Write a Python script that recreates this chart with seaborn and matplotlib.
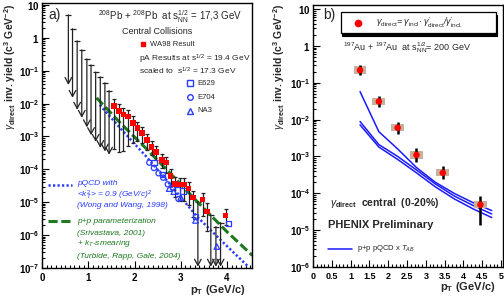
import numpy as np
import pandas as pd
import matplotlib
matplotlib.use("Agg")
import matplotlib.pyplot as plt
import seaborn as sns
from matplotlib.ticker import MultipleLocator, FixedLocator, NullFormatter, FuncFormatter

# ---------------- data: panel a (WA98, Pb+Pb 17.3 GeV) ----------------
ul_pt = [0.57, 0.66, 0.76, 0.86, 0.97, 1.06, 1.16, 1.26, 1.36, 1.45]
ul_top = [5.0, 1.9, 0.81, 0.43, 0.23, 0.15, 0.091, 0.065, 0.043, 0.025]
ul_tip = [0.037, 0.015, 6.5e-3, 3.7e-3, 1.9e-3, 1.1e-3, 6.9e-4, 4.5e-4, 3.5e-4, 2.8e-4]

wa98_pt = [1.56, 1.66, 1.76, 1.86, 1.97, 2.06, 2.16, 2.27, 2.37, 2.46, 2.59, 2.68,
           2.78, 2.88, 2.98, 3.07, 3.17, 3.27, 3.47, 3.57, 3.97]
wa98_y = [8.5e-3, 6.0e-3, 4.6e-3, 4.0e-3, 2.6e-3, 1.8e-3, 1.3e-3, 7.9e-4, 4.8e-4, 3.4e-4,
          1.95e-4, 1.6e-4, 6.3e-5, 3.6e-5, 3.5e-5, 3.5e-5, 2.6e-5, 1.4e-5, 1.2e-5, 5.2e-6, 3.9e-6]
wa98_hi = [1.4e-2, 1.0e-2, 7.3e-3, 6.3e-3, 4.1e-3, 2.7e-3, 2.0e-3, 1.2e-3, 7.2e-4, 5.1e-4,
           2.9e-4, 2.4e-4, 1.0e-4, 5.7e-5, 5.5e-5, 5.5e-5, 4.1e-5, 2.2e-5, 1.9e-5, 9.2e-6, 6.2e-6]
wa98_lo = [4.3e-4, 3.4e-4, 3.6e-4, 5.0e-4, 6.5e-4, 7.2e-4, 6.5e-4, 4.0e-4, 2.7e-4, 1.9e-4,
           1.1e-4, 8.0e-5, 3.2e-5, 1.4e-5, 1.1e-5, 1.1e-5, 8.2e-6, 3.5e-6, 3.8e-6, 1.3e-6, 2.0e-6]

zero_pt = [3.37, 3.65, 3.76, 3.86]
zero_top = [1.05e-5, 4.2e-6, 1.8e-6, 2.4e-6]
zero_floor = 1.1e-7

e704_pt = [2.32, 2.42, 2.52, 2.62, 2.72, 2.83, 2.95]
e704_y = [1.6e-4, 1.1e-4, 7.6e-5, 5.6e-5, 3.5e-5, 2.8e-5, 1.26e-5]
e629_pt = [2.42, 2.60, 2.91, 3.05, 3.32, 4.03]
e629_y = [1.6e-4, 7.1e-5, 3.4e-5, 2.2e-5, 3.7e-6, 2.2e-6]
na3_pt = [2.75, 2.85, 3.00, 3.32, 3.78]
na3_y = [2.6e-5, 2.1e-5, 1.4e-5, 2.8e-6, 4.5e-7]

pp_pt = [1.18, 1.69, 2.26, 2.77, 3.34, 4.00, 4.55]
pp_y = [1.5e-2, 2.6e-3, 4.2e-4, 7.6e-5, 1.1e-5, 1.26e-6, 2.4e-7]
pqcd_pt = [1.25, 1.69, 2.26, 2.77, 3.34, 3.90, 4.46]
pqcd_y = [9.1e-3, 1.8e-3, 2.4e-4, 3.5e-5, 3.8e-6, 6.3e-7, 1.1e-7]

xticks_a = [0, 1, 2, 3, 4]
xticklabels_a = ['0', '1', '2', '3', '4']
ydecades_a = [-7, -6, -5, -4, -3, -2, -1, 0, 1]

# ---------------- data: panel b (PHENIX Au+Au 200 GeV) ----------------
phx_pt = [1.25, 1.75, 2.25, 2.75, 3.45, 4.45]
phx_y = [0.22, 0.031, 6.0e-3, 1.1e-3, 3.6e-4, 4.9e-5]
phx_hi = [0.30, 0.043, 8.7e-3, 1.7e-3, 5.5e-4, 8.7e-5]
phx_lo = [0.16, 0.022, 4.1e-3, 6.9e-4, 2.4e-4, 1.4e-5]
phx_sys_hi = [0.277, 0.039, 7.6e-3, 1.4e-3, 4.5e-4, 6.2e-5]
phx_sys_lo = [0.175, 0.0246, 4.8e-3, 8.7e-4, 2.9e-4, 3.9e-5]

taa_pt = [1.25, 1.75, 2.25, 2.75, 3.25, 3.75, 4.25, 4.75]
taa_up = [5.75e-2, 4.7e-3, 1.6e-3, 5.0e-4, 2.0e-4, 1.0e-4, 5.6e-5, 3.4e-5]
taa_mid = [8.9e-3, 2.1e-3, 1.0e-3, 4.3e-4, 1.8e-4, 8.5e-5, 4.7e-5, 2.75e-5]
taa_low = [7.2e-3, 1.8e-3, 8.3e-4, 3.6e-4, 1.5e-4, 7.1e-5, 3.8e-5, 2.2e-5]

xticks_b = [0, 0.5, 1, 1.5, 2, 2.5, 3, 3.5, 4, 4.5, 5]
xticklabels_b = ['0', '0.5', '1', '1.5', '2', '2.5', '3', '3.5', '4', '4.5', '5']
ydecades_b = [-6, -5, -4, -3, -2, -1, 0, 1]

# ---------------- style ----------------
sns.set_style("ticks")
plt.rcParams['font.family'] = ['Liberation Sans', 'DejaVu Sans']
plt.rcParams['mathtext.fontset'] = 'custom'
plt.rcParams['mathtext.rm'] = 'Liberation Sans'
plt.rcParams['mathtext.it'] = 'Liberation Sans:italic'
plt.rcParams['mathtext.bf'] = 'Liberation Sans:bold'

RED = '#ff0000'
BLUE = '#2a3cff'
GREEN = '#1e7a1e'
TAN = '#c6b29c'
INK = '#222222'

fig = plt.figure(figsize=(5.04, 3.01), dpi=100)
axA = fig.add_axes([42/504, 1-268/301, 210/504, 265/301])
axB = fig.add_axes([313/504, 1-267/301, 190/504, 262/301])


def log_fmt(v, pos):
    e = int(round(np.log10(v)))
    if e == 0:
        return r'$\mathbf{1}$'
    if e == 1:
        return r'$\mathbf{10}$'
    return r'$\mathbf{10^{%d}}$' % e


def style_axes(ax, decades):
    ax.set_yscale('log')
    for sp in ax.spines.values():
        sp.set_linewidth(1.0)
        sp.set_color('black')
    ax.tick_params(which='both', direction='in', top=False, right=False,
                   labelsize=7, colors='black', width=0.8)
    ax.tick_params(which='major', length=5)
    ax.tick_params(which='minor', length=2.5)
    ax.tick_params(axis='y', which='major', pad=2)
    majors = [10.0 ** d for d in decades]
    minors = [m * 10.0 ** d for d in decades[:-1] for m in range(2, 10)]
    ax.yaxis.set_major_locator(FixedLocator(majors))
    ax.yaxis.set_minor_locator(FixedLocator(minors))
    ax.yaxis.set_minor_formatter(NullFormatter())
    ax.yaxis.set_major_formatter(FuncFormatter(log_fmt))
    ax.xaxis.set_minor_locator(MultipleLocator(0.1))


style_axes(axA, ydecades_a)
style_axes(axB, ydecades_b)

# ---------------- panel a ----------------
for x, t, b in zip(ul_pt, ul_top, ul_tip):
    axA.annotate('', xy=(x, b), xytext=(x, t), xycoords='data', textcoords='data',
                 arrowprops=dict(arrowstyle='->,head_length=0.55,head_width=0.3', color=INK,
                                 lw=0.9, shrinkA=0, shrinkB=0, mutation_scale=8))
axA.plot(ul_pt, ul_top, ls='none', marker='_', ms=4, mew=0.9, color=INK)

for x, t in zip(zero_pt, zero_top):
    axA.annotate('', xy=(x, zero_floor), xytext=(x, t), xycoords='data', textcoords='data',
                 arrowprops=dict(arrowstyle='->,head_length=0.55,head_width=0.3', color=INK,
                                 lw=0.9, shrinkA=0, shrinkB=0, mutation_scale=8))
axA.plot(zero_pt, zero_top, ls='none', marker='_', ms=4, mew=0.9, color=INK)

sns.lineplot(x=pqcd_pt, y=pqcd_y, ax=axA, color=BLUE, linewidth=1.8,
             linestyle=(0, (0.9, 0.9)), errorbar=None, sort=False)
sns.lineplot(x=pp_pt, y=pp_y, ax=axA, color=GREEN, linewidth=2.2,
             linestyle=(0, (3.0, 1.2)), errorbar=None, sort=False)

wy = np.array(wa98_y)
axA.errorbar(wa98_pt, wy, yerr=[wy - np.array(wa98_lo), np.array(wa98_hi) - wy],
             fmt='none', ecolor=INK, elinewidth=0.9, capsize=1.5, capthick=0.9)
sns.scatterplot(x=wa98_pt, y=wa98_y, ax=axA, marker='s', s=16, color=RED,
                edgecolor='none', zorder=5)

sns.scatterplot(x=e704_pt, y=e704_y, ax=axA, marker='o', s=14, color=BLUE,
                facecolor='none', edgecolor=BLUE, linewidth=0.9, zorder=4)
sns.scatterplot(x=e629_pt, y=e629_y, ax=axA, marker='s', s=14, color=BLUE,
                facecolor='none', edgecolor=BLUE, linewidth=0.9, zorder=4)
sns.scatterplot(x=na3_pt, y=na3_y, ax=axA, marker='^', s=16, color=BLUE,
                facecolor='none', edgecolor=BLUE, linewidth=0.9, zorder=4)

axA.set_xlim(0, 4.54)
axA.set_ylim(1e-7, 10**1.06)
axA.set_xticks(xticks_a)
axA.set_xticklabels(xticklabels_a, fontweight='bold', fontsize=7)
axA.set_xlabel('')
axA.set_ylabel('')

tA = axA.transAxes
axA.text(0.03, 0.955, 'a)', transform=tA, fontsize=10, ha='left', va='center')
axA.text(0.61, 0.947, r'$^{208}$Pb + $^{208}$Pb  at s$_{\rm NN}^{1/2}$ = 17,3 GeV',
         transform=tA, fontsize=7, ha='center', va='center')
axA.text(0.548, 0.891, 'Central Collisions', transform=tA, fontsize=6.5,
         ha='center', va='center')
axA.plot([0.481], [0.845], transform=tA, marker='s', ms=3.5, color=RED, ls='none')
axA.text(0.514, 0.845, 'WA98 Result', transform=tA, fontsize=5.5, ha='left', va='center')
axA.text(0.462, 0.788, r'pA Results at s$^{1/2}$ = 19.4 GeV', transform=tA,
         fontsize=6, ha='left', va='center')
axA.text(0.462, 0.742, r'scaled to  s$^{1/2}$ = 17.3 GeV', transform=tA,
         fontsize=6, ha='left', va='center')
for fy, mk, lab in [(0.697, 's', 'E629'), (0.645, 'o', 'E704'), (0.593, '^', 'NA3')]:
    axA.plot([0.705], [fy], transform=tA, marker=mk, ms=4, mfc='none', mec=BLUE,
             mew=1.0, ls='none')
    axA.text(0.738, fy, lab, transform=tA, fontsize=5.5, ha='left', va='center')

axA.plot([0.029, 0.143], [0.313, 0.313], transform=tA, color=BLUE, lw=1.8,
         ls=(0, (0.9, 0.9)))
axA.plot([0.029, 0.143], [0.177, 0.177], transform=tA, color=GREEN, lw=2.2,
         ls=(0, (3.0, 1.2)))
for fy, s in [(0.317, 'pQCD with'),
              (0.275, r'<$k_T^2$> = 0.9 (GeV/c)$^2$'),
              (0.234, '(Wong and Wang, 1998)')]:
    axA.text(0.167, fy, s, transform=tA, fontsize=6, style='italic', color=BLUE,
             ha='left', va='center')
for fy, s in [(0.177, 'p+p parameterization'),
              (0.132, '(Srivastava, 2001)'),
              (0.091, r'+ $k_T$-smearing'),
              (0.045, '(Turbide, Rapp, Gale, 2004)')]:
    axA.text(0.167, fy, s, transform=tA, fontsize=6, style='italic', color=GREEN,
             ha='left', va='center')

# ---------------- panel b ----------------
for ys in (taa_up, taa_mid, taa_low):
    sns.lineplot(x=taa_pt, y=ys, ax=axB, color='#1a1aff', linewidth=1.1,
                 errorbar=None, sort=False)

sh = np.array(phx_sys_hi)
sl = np.array(phx_sys_lo)
axB.bar(phx_pt, sh - sl, bottom=sl, width=0.34, color=TAN, edgecolor='none', zorder=3)
py = np.array(phx_y)
axB.errorbar(phx_pt, py, yerr=[py - np.array(phx_lo), np.array(phx_hi) - py],
             fmt='none', ecolor='black', elinewidth=1.8, capsize=0, zorder=4)
sns.scatterplot(x=phx_pt, y=phx_y, ax=axB, marker='o', s=22, color=RED,
                edgecolor='none', zorder=5)

axB.set_xlim(0, 5.05)
axB.set_ylim(1e-6, 10**1.11)
axB.set_xticks(xticks_b)
axB.set_xticklabels(xticklabels_b, fontweight='bold', fontsize=6.5)
axB.set_xlabel('')
axB.set_ylabel('')

tB = axB.transAxes
axB.text(0.053, 0.962, 'b)', transform=tB, fontsize=10, ha='left', va='center')
axB.add_patch(plt.Rectangle((0.155, 0.883), 0.816, 0.08, transform=tB,
                            facecolor='black', edgecolor='black', lw=0.8, zorder=6))
axB.add_patch(plt.Rectangle((0.147, 0.893), 0.816, 0.08, transform=tB,
                            facecolor='white', edgecolor='black', lw=0.9, zorder=6))
axB.plot([0.237], [0.931], transform=tB, marker='o', ms=4.5, color=RED, ls='none', zorder=7)
axB.text(0.33, 0.931,
         r'$\gamma_{\rm direct}$= $\gamma_{\rm incl}$$\bullet$ $\gamma^{\prime}_{\rm direct}$/$\gamma^{\prime}_{\rm incl.}$',
         transform=tB, fontsize=6.5, ha='left', va='center', zorder=7, style='italic')
axB.text(0.158, 0.836, r'$^{197}$Au + $^{197}$Au  at s$_{\rm NN}^{1/2}$= 200 GeV',
         transform=tB, fontsize=6.5, ha='left', va='center')
axB.text(0.089, 0.244, r'$\gamma_{\mathbf{direct}}$  central  (0-20%)', transform=tB,
         fontsize=7.5, fontweight='bold', ha='left', va='center')
axB.text(0.079, 0.160, 'PHENIX Preliminary', transform=tB, fontsize=8,
         fontweight='bold', ha='left', va='center')
axB.plot([0.079, 0.205], [0.069, 0.069], transform=tB, color='#1a1aff', lw=1.1)
axB.text(0.232, 0.069, r'p+p pQCD x $T_{AB}$', transform=tB, fontsize=5.5,
         ha='left', va='center')

# axis titles
ylab = r'$\gamma_{\mathbf{direct}}$ inv. yield (c$^{\mathbf{3}}$ GeV$^{\mathbf{-2}}$)'
fig.text(10.5/504, 1-4/301, ylab, rotation=90, ha='center', va='top', fontsize=7.5,
         fontweight='bold')
fig.text(279/504, 1-4/301, ylab, rotation=90, ha='center', va='top', fontsize=7.5,
         fontweight='bold')
xlab = r'p$_{\mathbf{T}}$ (GeV/c)'
fig.text(245/504, 1-290/301, xlab, ha='right', va='center', fontsize=8, fontweight='bold')
fig.text(495/504, 1-287/301, xlab, ha='right', va='center', fontsize=8, fontweight='bold')

fig.savefig('out.png', dpi=100)
